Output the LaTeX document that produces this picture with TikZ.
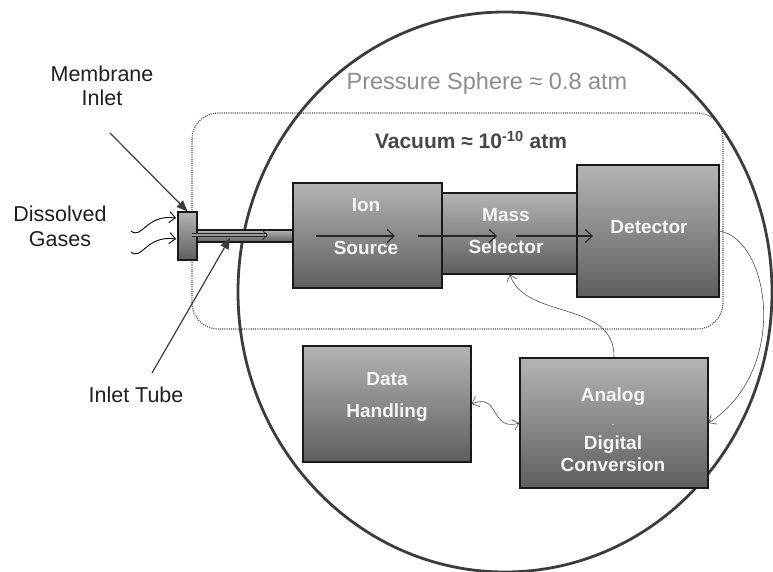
\documentclass[tikz,border=0pt]{standalone}
\usepackage{fontspec}
\setmainfont{Liberation Sans}
\usetikzlibrary{arrows.meta}
\definecolor{rim}{HTML}{3C3C3C}
\definecolor{boxtop}{HTML}{B4B4B4}
\definecolor{boxbot}{HTML}{5E5E5E}
\definecolor{boxtxt}{HTML}{F4F4F4}
\begin{document}
\begin{tikzpicture}[x=1pt,y=-1pt,
    blk/.style={draw=black!90, line width=1.3pt, top color=boxtop, bottom color=boxbot, inner sep=0pt},
    intxt/.style={text=boxtxt, align=center, font=\fontsize{19}{22}\selectfont\bfseries},
    outlbl/.style={text=black!88, align=center, font=\fontsize{21.5}{24.5}\selectfont},
    flow/.style={line width=1.1pt, draw=black!85, -{Straight Barb[length=7pt,width=13pt]}},
    wire/.style={line width=0.6pt, draw=black!70, -{Straight Barb[length=6pt,width=11pt]}},
    pointer/.style={line width=1.2pt, draw=rim, -{Triangle[length=11pt,width=9pt]}}]
  \useasboundingbox (0,0) rectangle (773,572);
  % pressure sphere and vacuum chamber
  \draw[line width=2.8pt, rim] (505,292) ellipse [x radius=267pt, y radius=280pt];
  \draw[line width=1.1pt, black!75, dash pattern=on 1pt off 1.2pt, rounded corners=26pt] (192,113) rectangle (723,329);
  \node[text=black!45, font=\fontsize{23.5}{26}\selectfont] (psph) at (487,83) {Pressure Sphere ≈ 0.8 atm};
  \node[text=black!72, font=\fontsize{21}{24}\selectfont\bfseries] (vac) at (471,140) {Vacuum ≈ 10\textsuperscript{-10} atm};

  % inlet side
  \node[blk, line width=1.1pt, minimum width=96pt, minimum height=12pt] (tube) at (245,236) {};
  \node[blk, line width=1.1pt, minimum width=19pt, minimum height=48pt] (memb) at (187.5,236) {};
  \coordinate (t1) at (192,235);
  \coordinate (t2) at (268,235);
  \draw[line width=0.7pt, black!85, double=black!40, double distance=2pt, -{Straight Barb[length=5pt,width=9pt]}] (t1) -- (t2);

  % vacuum components
  \node[blk, minimum width=136pt, minimum height=81pt] (mass) at (510,233.5) {};
  \node[blk, minimum width=149pt, minimum height=105pt] (ion) at (367.5,235.5) {};
  \node[blk, minimum width=142pt, minimum height=132pt] (det) at (648,231) {};
  \node[intxt] (iontxt) at (366,227) {Ion\\[21pt]Source};
  \node[intxt] (masstxt) at (506,231.5) {Mass\\[10pt]Selector};
  \node[intxt] (dettxt) at (649,227) {Detector};

  % electronics
  \node[blk, minimum width=168pt, minimum height=116pt] (data) at (387,404) {};
  \node[blk, minimum width=188pt, minimum height=130pt] (adc) at (614,423) {};
  \node[intxt] (datatxt) at (387,396.5) {Data\\[10pt]Handling};
  \node[intxt] (adctxt) at (613,430) {Analog\\[2pt]{\normalfont\fontsize{10}{12}\selectfont .}\\[2pt]Digital\\Conversion};

  % ion beam
  \coordinate (f1) at (316,236);
  \coordinate (f2) at (395,236);
  \coordinate (f3) at (418,236);
  \coordinate (f4) at (497,236);
  \coordinate (f5) at (516,236);
  \coordinate (f6) at (593,236);
  \draw[flow] (f1) -- (f2);
  \draw[flow] (f3) -- (f4);
  \draw[flow] (f5) -- (f6);

  % signal lines
  \draw[wire] (det.east) .. controls (770,240) and (790,370) .. (adc.east);
  \draw[wire] (adc.north) .. controls (615,300) and (525,320) .. (mass.south);
  \draw[wire, {Straight Barb[length=6pt,width=11pt]}-{Straight Barb[length=6pt,width=11pt]}] (data.east) .. controls (500,392) and (490,432) .. (adc.west);

  % outside labels
  \node[outlbl] (memlbl) at (102,86) {Membrane\\Inlet};
  \node[outlbl] (gaslbl) at (60,226.5) {Dissolved\\Gases};
  \node[outlbl] (tubelbl) at (136,395) {Inlet Tube};
  \coordinate (mtail) at (110,133);
  \coordinate (ttail) at (152,373);
  \coordinate (thead) at (230,238);
  \draw[pointer] (mtail) -- (memb.north);
  \draw[pointer] (ttail) -- (thead);

  % gas entering the membrane
  \coordinate (g1) at (131,231);
  \coordinate (g2) at (176,218);
  \coordinate (g3) at (131,252);
  \coordinate (g4) at (176,239);
  \draw[wire, line width=0.9pt, draw=black] (g1) .. controls (142,240) and (146,214) .. (g2);
  \draw[wire, line width=0.9pt, draw=black] (g3) .. controls (142,261) and (146,235) .. (g4);
\end{tikzpicture}
\end{document}
